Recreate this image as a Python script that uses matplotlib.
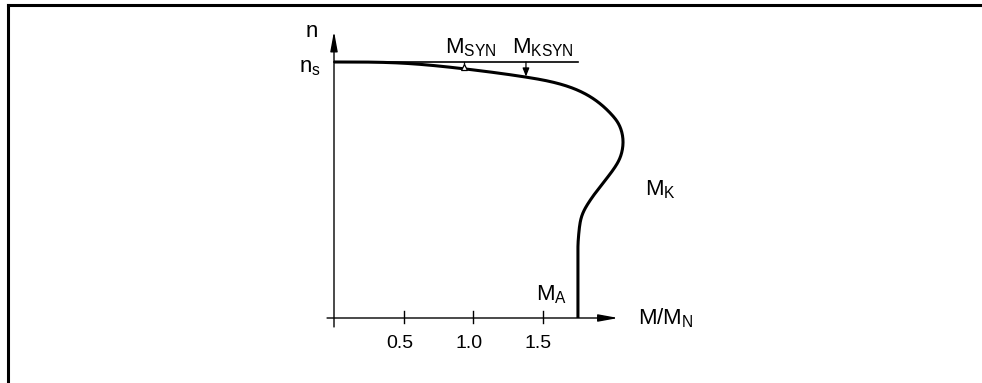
import numpy as np
import matplotlib.pyplot as plt

plt.rcParams['font.family'] = ['Liberation Sans', 'DejaVu Sans']
plt.rcParams['mathtext.fontset'] = 'custom'
plt.rcParams['mathtext.rm'] = 'Liberation Sans'
plt.rcParams['mathtext.it'] = 'Liberation Sans'

# speed-torque curve (M/M_N, n/n_s), curved part
torque = [0.0, 0.475, 0.942, 1.381, 1.626, 1.878, 2.0, 2.058, 2.079, 2.065,
          2.022, 1.964, 1.830, 1.778, 1.761, 1.755]
speed = [1.0, 0.996, 0.973, 0.941, 0.914, 0.852, 0.793, 0.746, 0.695, 0.637,
         0.59, 0.547, 0.449, 0.39, 0.33, 0.273]
tick_vals = [0.5, 1.0, 1.5]
tick_labels = ["0.5", "1.0", "1.5"]
m_syn = 0.935      # operating point
m_ksyn = 1.381
m_a = 1.755        # starting torque

fig = plt.figure(figsize=(9.82, 3.83), dpi=100)
ax = fig.add_axes([0, 0, 1, 1])
ax.set_xlim(-334 / 139, (982 - 334) / 139)
ax.set_ylim((318 - 383) / 256, 318 / 256)
ax.axis('off')

# frame (top and left only)
fig.add_artist(plt.Line2D([8 / 982, 1.0], [1 - 5 / 383, 1 - 5 / 383], color='black', lw=2.2))
fig.add_artist(plt.Line2D([8 / 982, 8 / 982], [0.0, 1 - 5 / 383], color='black', lw=2.2))

# axes with arrows
arrow = dict(arrowstyle='-|>,head_length=1.2,head_width=0.22', color='black', lw=1.0,
             shrinkA=0, shrinkB=0)
ax.annotate("", xy=(2.045, 0), xytext=(-0.05, 0), arrowprops=arrow)
ax.annotate("", xy=(0, 1.12), xytext=(0, -0.035), arrowprops=arrow)
for t, lab in zip(tick_vals, tick_labels):
    ax.plot([t, t], [-0.02, 0.027], color='black', lw=1.0)
    ax.text(t - 0.03, -0.068, lab, ha='center', va='top', fontsize=14)

# synchronous speed line
ax.plot([0, m_a], [1.0, 1.0], color='black', lw=1.2)


def clamped_spline(x, y, d0, d1, n=400):
    # cubic spline with chord-length parameter and fixed end tangents
    p = np.column_stack([x, y])
    h = np.hypot(*np.diff(p, axis=0).T)
    t = np.concatenate([[0], np.cumsum(h)])
    m = len(t)
    M_all = []
    for k, d in enumerate([(d0[0], d1[0]), (d0[1], d1[1])]):
        v = p[:, k]
        A = np.zeros((m, m))
        b = np.zeros(m)
        A[0, 0], A[0, 1] = 2 * h[0], h[0]
        b[0] = 6 * ((v[1] - v[0]) / h[0] - d[0])
        A[-1, -2], A[-1, -1] = h[-1], 2 * h[-1]
        b[-1] = 6 * (d[1] - (v[-1] - v[-2]) / h[-1])
        for i in range(1, m - 1):
            A[i, i - 1], A[i, i], A[i, i + 1] = h[i - 1], 2 * (h[i - 1] + h[i]), h[i]
            b[i] = 6 * ((v[i + 1] - v[i]) / h[i] - (v[i] - v[i - 1]) / h[i - 1])
        M_all.append(np.linalg.solve(A, b))
    ts = np.linspace(0, t[-1], n)
    idx = np.clip(np.searchsorted(t, ts) - 1, 0, m - 2)
    out = []
    for k in range(2):
        v, M = p[:, k], M_all[k]
        t0, t1 = t[idx], t[idx + 1]
        hh = t1 - t0
        a = (t1 - ts) / hh
        bb = (ts - t0) / hh
        out.append(a * v[idx] + bb * v[idx + 1]
                   + ((a ** 3 - a) * M[idx] + (bb ** 3 - bb) * M[idx + 1]) * hh ** 2 / 6)
    return out


cx, cy = clamped_spline(torque, speed, (1.0, 0.0), (0.0, -1.0))
cx = np.append(cx, m_a)
cy = np.append(cy, 0.0)
ax.plot(cx, cy, color='black', lw=2.2, solid_capstyle='butt')

# M_SYN marker and M_KSYN arrow
ax.plot([m_syn, m_syn], [0.978, 1.0], color='black', lw=0.9)
ax.plot([m_syn], [0.982], marker='^', ms=5, mfc='white', mec='black', mew=0.9)
ax.annotate("", xy=(m_ksyn, 0.943), xytext=(m_ksyn, 1.0),
            arrowprops=dict(arrowstyle='-|>,head_length=0.5,head_width=0.2', color='black', lw=0.9,
                            shrinkA=0, shrinkB=0))

fs = 16
ax.text(-0.16, 1.12, "n", ha='center', va='center', fontsize=fs)
ax.text(-0.17, 0.98, r"$\mathregular{n_s}$", ha='center', va='center', fontsize=fs)
ax.text(0.80, 1.01, r"$\mathregular{M_{SYN}}$", ha='left', va='bottom', fontsize=fs)
ax.text(1.28, 1.01, r"$\mathregular{M_{KSYN}}$", ha='left', va='bottom', fontsize=fs)
ax.text(2.24, 0.50, r"$\mathregular{M_K}$", ha='left', va='center', fontsize=fs)
ax.text(1.45, 0.09, r"$\mathregular{M_A}$", ha='left', va='center', fontsize=fs)
ax.text(2.19, 0.0, r"$\mathregular{M/M_N}$", ha='left', va='center', fontsize=fs)

fig.savefig("out.png", dpi=100)
